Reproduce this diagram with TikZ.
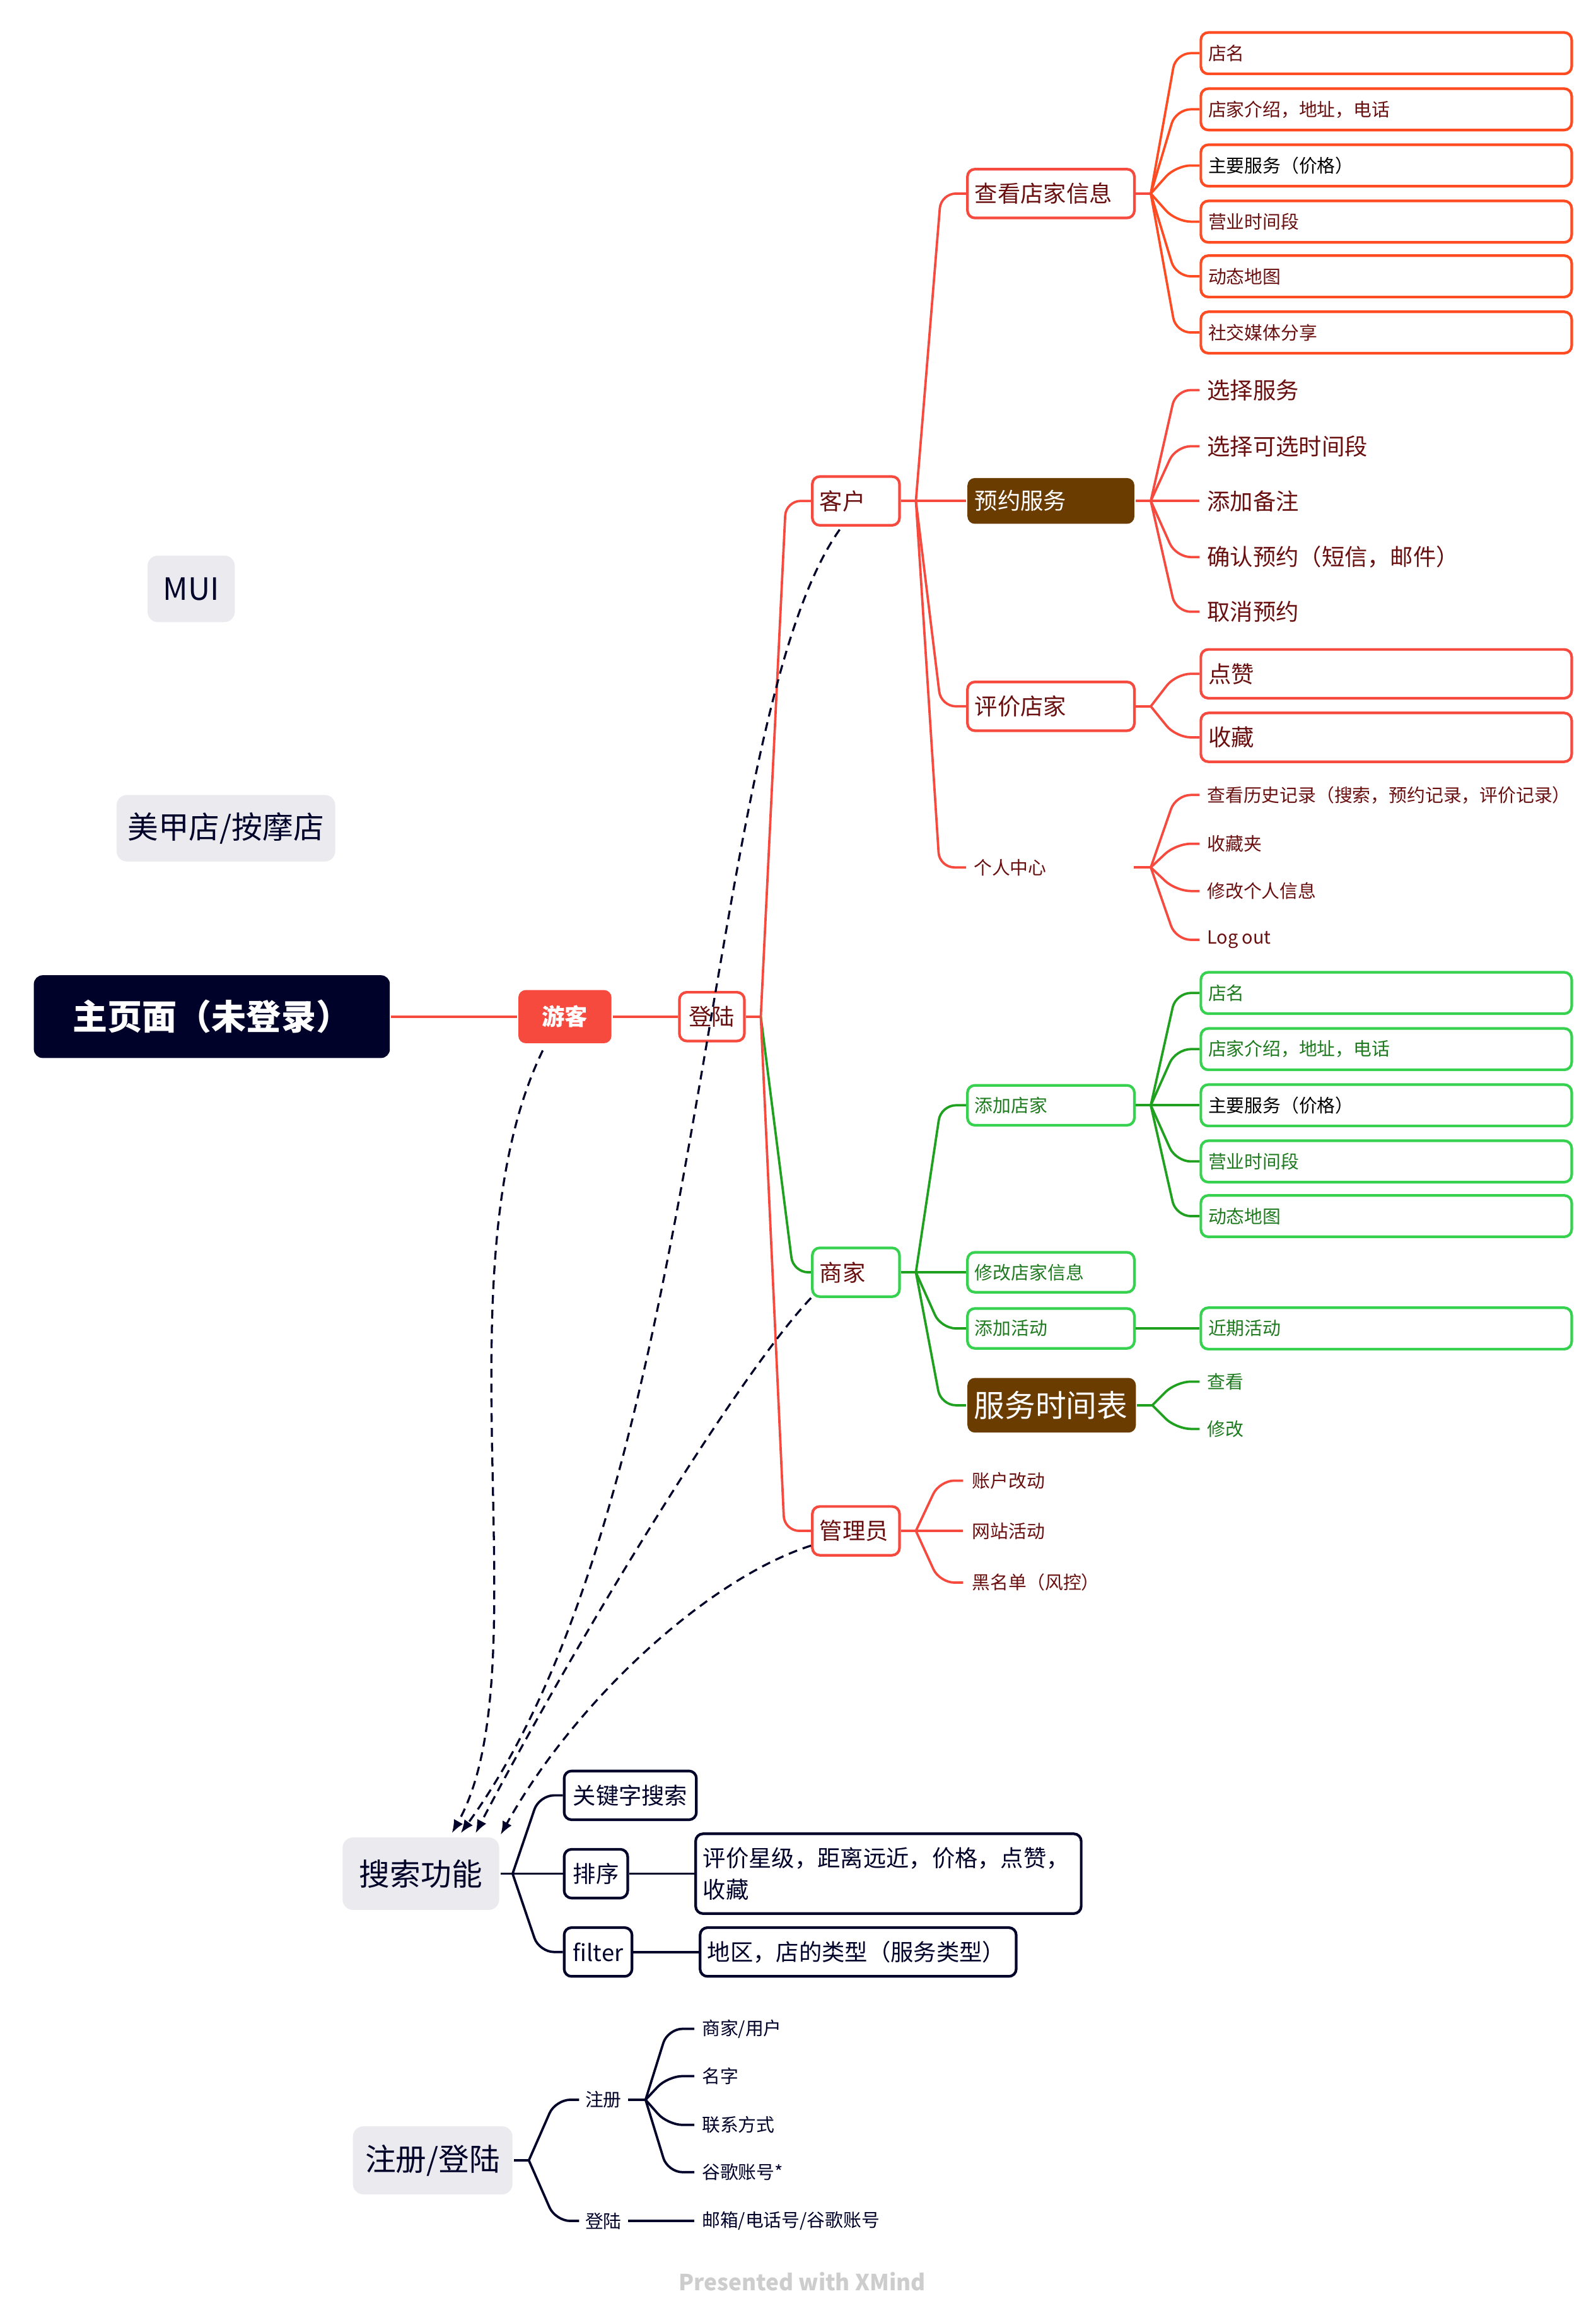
\documentclass[tikz,border=0pt]{standalone}
\usepackage{fontspec}
\setmainfont{Noto Sans CJK SC}
\usetikzlibrary{arrows.meta,calc}
\definecolor{xred}{HTML}{F64A3F}
\definecolor{xorange}{HTML}{FF4B22}
\definecolor{xdark}{HTML}{6A0F0F}
\definecolor{xgline}{HTML}{1FA01F}
\definecolor{xgbox}{HTML}{36D24F}
\definecolor{xgtext}{HTML}{1E7A1E}
\definecolor{xbrown}{HTML}{6B3C00}
\definecolor{xnavy}{HTML}{000229}
\definecolor{xgray}{HTML}{EBEAEE}
\definecolor{xfoot}{HTML}{CDCDCD}
\newcommand\fsXL{\fontsize{23.5pt}{27pt}\selectfont}
\newcommand\fsL{\fontsize{20.8pt}{24pt}\selectfont}
\newcommand\fsM{\fontsize{15.5pt}{21pt}\selectfont}
\newcommand\fsS{\fontsize{12.3pt}{15pt}\selectfont}
\newcommand\elb[4]{\draw[#1] (#2) -- ($(#2 |- #3.west)+(#4,0)$) -- (#3.west);}
\tikzset{
 xbase/.style={anchor=west, inner xsep=5pt, inner ysep=0pt, align=left},
 xbox/.style={xbase, rounded corners=5pt, line width=1.8pt},
 rbox/.style={xbox, draw=xred, fill=white, text=xdark, font=\fsM, minimum height=33pt},
 obox/.style={xbox, draw=xorange, fill=white, text=xdark, font=\fsS, minimum height=28pt, text width=241pt},
 gbox/.style={xbox, draw=xgbox, fill=white, text=xgtext, font=\fsS, minimum height=27pt},
 gleaf/.style={gbox, text width=241pt, minimum height=28pt},
 nbox/.style={xbox, draw=xnavy, fill=white, text=xnavy, font=\fsM, minimum height=33pt, inner xsep=6pt},
 graybox/.style={xbox, draw=none, fill=xgray, text=xnavy, font=\fsL, rounded corners=7pt, align=center},
 rtxt/.style={xbase, text=xdark},
 gtxt/.style={xbase, text=xgtext, font=\fsS},
 ntxt/.style={xbase, text=xnavy, font=\fsS},
 rline/.style={draw=xred, line width=1.6pt, rounded corners=10pt},
 oline/.style={draw=xorange, line width=1.6pt, rounded corners=10pt},
 gline/.style={draw=xgline, line width=1.6pt, rounded corners=10pt},
 nline/.style={draw=xnavy, line width=1.6pt, rounded corners=10pt},
 dline/.style={draw=xnavy, line width=1.4pt, dash pattern=on 6pt off 4pt, -{Latex[length=9pt,width=7pt]}},
}
\begin{document}
\begin{tikzpicture}[x=1pt,y=-1pt]
\fill[white] (0,0) rectangle (1080,1557.2);
\useasboundingbox (0,0) rectangle (1080,1557.2);

% ---- main chain
\node[xbox, fill=xnavy, text=white, font=\fsXL\bfseries, minimum width=241pt, minimum height=56pt, align=center, rounded corners=6pt] (main) at (22,688) {主页面（未登录）};
\node[xbox, fill=xred, text=white, font=\fsM\bfseries, minimum width=63pt, minimum height=36pt, align=center] (guest) at (350,688) {游客};
\node[rbox, minimum width=44pt, align=center] (login) at (459,688) {登陆};
\coordinate (bL) at (515,688);

\node[rbox, text width=49pt] (cust) at (549,339) {客户};
\node[xbox, draw=xgbox, fill=white, text=xdark, font=\fsM, text width=49pt, minimum height=33pt] (merch) at (549,861) {商家};
\node[rbox, text width=49pt] (admin) at (549,1036) {管理员};

% ---- customer
\coordinate (bC) at (620,339);
\node[rbox, text width=103pt] (view) at (654,131) {查看店家信息};
\node[xbox, fill=xbrown, text=white, font=\fsM, text width=103pt, minimum height=31pt] (book) at (654,339) {预约服务};
\node[rbox, text width=103pt] (rate) at (654,478) {评价店家};
\node[rtxt, font=\fsS, text width=103pt] (pers) at (654,587) {个人中心};

\coordinate (bV) at (779,131);
\node[obox] (v1) at (812,36) {店名};
\node[obox] (v2) at (812,74) {店家介绍，地址，电话};
\node[obox, text=black] (v3) at (812,112) {主要服务（价格）};
\node[obox] (v4) at (812,150) {营业时间段};
\node[obox] (v5) at (812,187) {动态地图};
\node[obox] (v6) at (812,225) {社交媒体分享};

\coordinate (bB) at (779,339);
\node[rtxt, font=\fsM] (k1) at (812,264) {选择服务};
\node[rtxt, font=\fsM] (k2) at (812,302) {选择可选时间段};
\node[rtxt, font=\fsM] (k3) at (812,339) {添加备注};
\node[rtxt, font=\fsM] (k4) at (812,377) {确认预约（短信，邮件）};
\node[rtxt, font=\fsM] (k5) at (812,414) {取消预约};

\coordinate (bR) at (779,478);
\node[rbox, text width=241pt] (r1) at (812,456) {点赞};
\node[rbox, text width=241pt] (r2) at (812,499) {收藏};

\coordinate (bP) at (779,587);
\node[rtxt, font=\fsS] (p1) at (812,538) {查看历史记录（搜索，预约记录，评价记录）};
\node[rtxt, font=\fsS] (p2) at (812,571) {收藏夹};
\node[rtxt, font=\fsS] (p3) at (812,603) {修改个人信息};
\node[rtxt, font=\fsS] (p4) at (812,636) {Log out};

% ---- merchant
\coordinate (bM) at (620,861);
\node[gbox, text width=103pt] (addshop) at (654,748) {添加店家};
\node[gbox, text width=103pt] (editshop) at (654,861) {修改店家信息};
\node[gbox, text width=103pt] (addact) at (654,899) {添加活动};
\node[xbox, fill=xbrown, text=white, font=\fsL, inner xsep=4.5pt, text width=105pt, minimum height=37pt] (sched) at (654,951) {服务时间表};

\coordinate (bA) at (779,748);
\node[gleaf] (a1) at (812,672) {店名};
\node[gleaf] (a2) at (812,710) {店家介绍，地址，电话};
\node[gleaf, text=black] (a3) at (812,748) {主要服务（价格）};
\node[gleaf] (a4) at (812,786) {营业时间段};
\node[gleaf] (a5) at (812,823) {动态地图};
\node[gleaf] (act) at (812,899) {近期活动};
\coordinate (bS) at (780,951);
\node[gtxt] (s1) at (812,935) {查看};
\node[gtxt] (s2) at (812,967) {修改};

% ---- admin
\coordinate (bD) at (620,1036);
\node[rtxt, font=\fsS, inner xsep=6pt] (d1) at (652,1002) {账户改动};
\node[rtxt, font=\fsS, inner xsep=6pt] (d2) at (652,1036) {网站活动};
\node[rtxt, font=\fsS, inner xsep=6pt] (d3) at (652,1071) {黑名单（风控）};

% ---- floating topics
\node[graybox, minimum width=59pt, minimum height=45pt] (mui) at (99,398.5) {MUI};
\node[graybox, minimum width=148pt, minimum height=45pt] (shop) at (78,560.5) {美甲店/按摩店};

% ---- search
\node[graybox, minimum width=106pt, minimum height=49pt] (search) at (231,1268) {搜索功能};
\coordinate (bQ) at (347,1268);
\node[nbox] (kw) at (381,1215) {关键字搜索};
\node[nbox] (sort) at (381,1268) {排序};
\node[nbox] (filt) at (381,1321) {filter};
\node[nbox, inner xsep=5pt, text width=251pt, minimum height=54pt] (sortv) at (470,1268) {评价星级，距离远近，价格，点赞，\\收藏};
\node[nbox, inner xsep=5pt, text width=204pt] (filtv) at (473,1321) {地区，店的类型（服务类型）};

% ---- register
\node[graybox, minimum width=108pt, minimum height=46pt] (reg) at (238,1462) {注册/登陆};
\coordinate (bG) at (358,1462);
\node[ntxt, inner xsep=4pt] (zc) at (392,1421) {注册};
\node[ntxt, inner xsep=4pt] (dl) at (392,1503) {登陆};
\coordinate (bZ) at (437,1421);
\node[ntxt] (z1) at (470,1373) {商家/用户};
\node[ntxt] (z2) at (470,1405) {名字};
\node[ntxt] (z3) at (470,1438) {联系方式};
\node[ntxt] (z4) at (470,1470) {谷歌账号*};
\node[ntxt] (dv) at (470,1503) {邮箱/电话号/谷歌账号};

\node[font=\fontsize{15pt}{18pt}\selectfont\bfseries, text=xfoot] (foot) at (543,1544) {Presented with XMind};

% ---- connectors
\draw[rline] (main.east) -- (guest.west);
\draw[rline] (guest.east) -- (login.west);
\draw[rline] (login.east) -- (bL);
\elb{rline}{bL}{cust}{17}
\elb{gline}{bL}{merch}{22}
\elb{rline}{bL}{admin}{16}

\draw[rline] (cust.east) -- (bC);
\elb{rline}{bC}{view}{17}
\elb{rline}{bC}{book}{17}
\elb{rline}{bC}{rate}{17}
\elb{rline}{bC}{pers}{16}

\draw[rline] (view.east) -- (bV);
\foreach \n in {v1,v2,v3,v4,v5,v6}{\elb{oline}{bV}{\n}{17}}
\draw[rline] (book.east) -- (bB);
\foreach \n in {k1,k2,k3,k4,k5}{\elb{rline}{bB}{\n}{17}}
\draw[rline] (rate.east) -- (bR);
\foreach \n in {r1,r2}{\elb{rline}{bR}{\n}{17}}
\draw[rline] (pers.east) -- (bP);
\foreach \n in {p1,p2,p3,p4}{\elb{rline}{bP}{\n}{17}}

\draw[gline] (merch.east) -- (bM);
\foreach \n in {addshop,editshop,addact,sched}{\elb{gline}{bM}{\n}{17}}
\draw[gline] (addshop.east) -- (bA);
\foreach \n in {a1,a2,a3,a4,a5}{\elb{gline}{bA}{\n}{17}}
\draw[gline] (addact.east) -- (act.west);
\draw[gline] (sched.east) -- (bS);
\foreach \n in {s1,s2}{\elb{gline}{bS}{\n}{16}}

\draw[rline] (admin.east) -- (bD);
\foreach \n in {d1,d2,d3}{\elb{rline}{bD}{\n}{16}}

\draw[nline] (search.east) -- (bQ);
\foreach \n in {kw,sort,filt}{\elb{nline}{bQ}{\n}{18}}
\draw[nline] (sort.east) -- (sortv.west);
\draw[nline] (filt.east) -- (filtv.west);

\draw[nline] (reg.east) -- (bG);
\foreach \n in {zc,dl}{\elb{nline}{bG}{\n}{18}}
\draw[nline] (zc.east) -- (bZ);
\foreach \n in {z1,z2,z3,z4}{\elb{nline}{bZ}{\n}{15}}
\draw[nline] (dl.east) -- (dv.west);

% ---- dashed relations
\draw[dline] ([xshift=-15pt,yshift=-4pt]guest.south) .. controls (295,860) and (368,1130) .. ([xshift=21pt,yshift=2pt]search.north);
\draw[dline] ([xshift=-11pt,yshift=-2pt]cust.south) .. controls (475,490) and (480,1010) .. ([xshift=27pt,yshift=2pt]search.north);
\draw[dline] (merch.south west) .. controls (500,930) and (390,1110) .. ([xshift=37pt,yshift=2pt]search.north);
\draw[dline] ([yshift=-10pt]admin.west) .. controls (480,1068) and (390,1150) .. ([xshift=54pt,yshift=1pt]search.north);
\end{tikzpicture}
\end{document}
